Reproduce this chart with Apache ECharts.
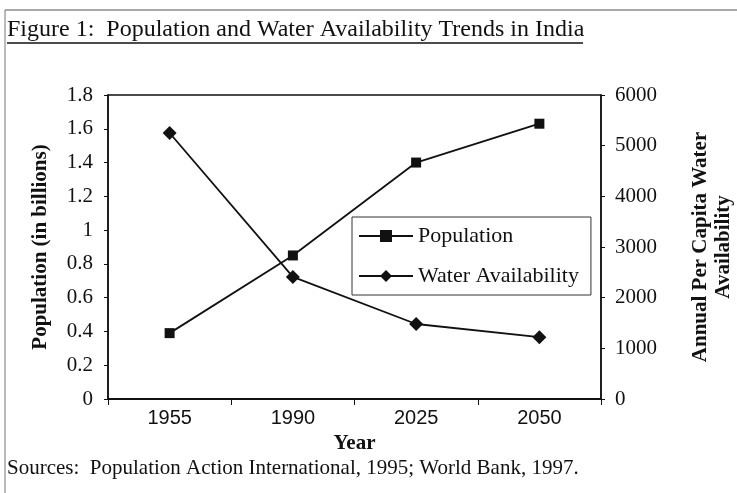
<!DOCTYPE html>
<html>
<head>
<meta charset="utf-8">
<script src="https://cdn.jsdelivr.net/npm/echarts@6/dist/echarts.min.js"></script>
<style>
  html, body { margin: 0; padding: 0; background: #fff; }
  #chart { width: 737px; height: 493px; }
</style>
</head>
<body>
<div id="chart"></div>
<script type="text/javascript">
var years = ['1955', '1990', '2025', '2050'];
var population = [0.39, 0.85, 1.40, 1.63];
var water = [5250, 2410, 1480, 1220];
var popTicks = [0, 1.8, 0.2];
var waterTicks = [0, 6000, 1000];

var serif = '"Liberation Serif", "Times New Roman", serif';
var sans = '"Liberation Sans", Arial, sans-serif';

var myChart = echarts.init(document.getElementById('chart'));
var option = {
    backgroundColor: '#fff',
    animation: false,
    graphic: [
        { type: 'line', shape: { x1: 5, y1: 10, x2: 737, y2: 10 }, style: { stroke: '#555', lineWidth: 1 } },
        { type: 'line', shape: { x1: 5, y1: 10, x2: 5, y2: 493 }, style: { stroke: '#777', lineWidth: 1 } },
        { type: 'text', left: 7, top: 18, style: { text: 'Figure 1:  Population and Water Availability Trends in India', font: '24px ' + serif, fill: '#111' } },
        { type: 'line', shape: { x1: 7, y1: 43, x2: 583, y2: 43 }, style: { stroke: '#111', lineWidth: 1.5 } },
        { type: 'text', left: 7, top: 458, style: { text: 'Sources:  Population Action International, 1995; World Bank, 1997.', font: '21px ' + serif, fill: '#111' } }
    ],
    grid: {
        left: 108, right: 136, top: 95, bottom: 94,
        containLabel: false,
        outerBoundsMode: 'none',
        show: true, borderColor: '#111', borderWidth: 1.5, backgroundColor: 'transparent'
    },
    legend: {
        left: 352, top: 217,
        orient: 'vertical',
        backgroundColor: '#fff',
        borderColor: '#333', borderWidth: 1,
        padding: [8, 12, 8, 6],
        itemWidth: 54, itemHeight: 15, itemGap: 18,
        textStyle: { fontFamily: serif, fontSize: 22, color: '#111' },
        data: ['Population', 'Water Availability']
    },
    xAxis: {
        type: 'category',
        data: years,
        boundaryGap: true,
        name: 'Year',
        nameLocation: 'middle',
        nameGap: 34,
        nameTextStyle: { fontFamily: serif, fontWeight: 'bold', fontSize: 21, color: '#111' },
        axisLine: { lineStyle: { color: '#111', width: 2 } },
        axisTick: { show: true, length: 6, lineStyle: { color: '#111' } },
        axisLabel: { fontFamily: sans, fontSize: 20, color: '#111', margin: 9 },
        splitLine: { show: false }
    },
    yAxis: [
        {
            type: 'value',
            min: popTicks[0], max: popTicks[1], interval: popTicks[2],
            name: 'Population (in billions)',
            nameLocation: 'middle',
            nameRotate: 90,
            nameGap: 57,
            nameTextStyle: { fontFamily: serif, fontWeight: 'bold', fontSize: 21, color: '#111' },
            axisLine: { show: true, lineStyle: { color: '#111', width: 1.5 } },
            axisTick: { show: true, length: 4, lineStyle: { color: '#111' } },
            axisLabel: { fontFamily: serif, fontSize: 21, color: '#111', margin: 15,
                formatter: function (v) { return String(Math.round(v * 10) / 10); } },
            splitLine: { show: false }
        },
        {
            type: 'value',
            position: 'right',
            min: waterTicks[0], max: waterTicks[1], interval: waterTicks[2],
            name: 'Annual Per Capita Water\nAvailability',
            nameLocation: 'middle',
            nameRotate: 90,
            nameGap: 88,
            nameTextStyle: { fontFamily: serif, fontWeight: 'bold', fontSize: 21, color: '#111', lineHeight: 23, align: 'center' },
            axisLine: { show: true, lineStyle: { color: '#111', width: 1.5 } },
            axisTick: { show: true, length: 4, lineStyle: { color: '#111' } },
            axisLabel: { fontFamily: serif, fontSize: 21, color: '#111', margin: 14,
                formatter: function (v) { return String(v); } },
            splitLine: { show: false }
        }
    ],
    series: [
        {
            name: 'Population',
            type: 'line',
            yAxisIndex: 0,
            data: population,
            symbol: 'rect',
            symbolSize: 10,
            lineStyle: { color: '#111', width: 1.8 },
            itemStyle: { color: '#111' }
        },
        {
            name: 'Water Availability',
            type: 'line',
            yAxisIndex: 1,
            data: water,
            symbol: 'diamond',
            symbolSize: 14,
            lineStyle: { color: '#111', width: 1.8 },
            itemStyle: { color: '#111' }
        }
    ]
};
myChart.setOption(option);
</script>
</body>
</html>
